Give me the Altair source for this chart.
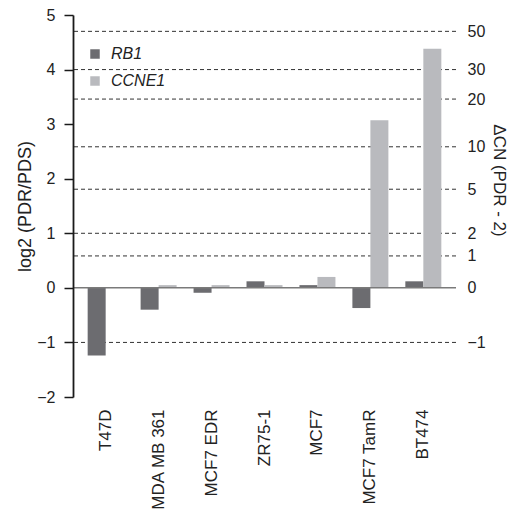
import altair as alt
import numpy as np
import pandas as pd

cells = ["T47D", "MDA MB 361", "MCF7 EDR", "ZR75-1", "MCF7", "MCF7 TamR", "BT474"]
genes = ["RB1", "CCNE1"]
rb1 = [-1.24, -0.40, -0.09, 0.12, 0.05, -0.37, 0.12]
ccne1 = [0.0, 0.05, 0.05, 0.05, 0.20, 3.07, 4.38]
left_ticks = [-2, -1, 0, 1, 2, 3, 4, 5]
dcn_ticks = [-1, 0, 1, 2, 5, 10, 20, 30, 50]
colors = ["#6c6c70", "#b9babe"]

FONT = "Liberation Sans"

rows = []
for i, c in enumerate(cells):
    rows.append({"cell": c, "gene": "RB1", "value": rb1[i]})
    rows.append({"cell": c, "gene": "CCNE1", "value": ccne1[i]})
bars_df = pd.DataFrame(rows)

# right-axis ticks: dCN mapped onto the log2 (PDR/PDS) scale, PDR = dCN + 2
dcn_pos = [float(np.log2(1 + d / 2)) for d in dcn_ticks]
grid_df = pd.DataFrame({"dcn": dcn_ticks, "pos": dcn_pos})
grid_df = grid_df[grid_df["dcn"] != 0]
zero_df = pd.DataFrame({"value": [0]})

yscale = alt.Scale(domain=[-2, 5], nice=False, zero=False)

left_axis = alt.Axis(orient="left", values=left_ticks, format="d",
                     title="log2 (PDR/PDS)",
                     grid=False, tickSize=9, tickWidth=1.5, tickColor="#1a1a1a",
                     domainColor="#1a1a1a", domainWidth=1.8, labelPadding=9,
                     labelFontSize=16, labelFont=FONT, labelColor="#222",
                     titleFont=FONT, titleFontSize=18, titleFontWeight="normal",
                     titleColor="#222", titlePadding=2, zindex=2)

grid = alt.Chart(grid_df).mark_rule(
    color="#333333", strokeDash=[4, 3], strokeWidth=1
).encode(
    y=alt.Y("pos:Q", scale=yscale,
            axis=alt.Axis(orient="right", values=dcn_pos,
                          labelExpr="format(round(2*pow(2, datum.value) - 2), 'd')",
                          title="ΔCN (PDR - 2)", ticks=False, domain=False, grid=False,
                          labelPadding=11, labelFontSize=16, labelFont=FONT, labelColor="#222",
                          titleFont=FONT, titleFontSize=17, titleFontWeight="normal",
                          titleColor="#222", titlePadding=4, titleY=165))
)

bars = alt.Chart(bars_df).mark_bar().encode(
    x=alt.X("cell:N", sort=cells,
            scale=alt.Scale(paddingInner=0.32, paddingOuter=0.277),
            axis=alt.Axis(title=None, labelAngle=-90, ticks=False, domain=False,
                          labelPadding=12, labelFontSize=17, labelFont=FONT,
                          labelColor="#222")),
    xOffset=alt.XOffset("gene:N", sort=genes),
    y=alt.Y("value:Q", scale=yscale, axis=left_axis),
    color=alt.Color("gene:N", sort=genes,
                    scale=alt.Scale(domain=genes, range=colors),
                    legend=alt.Legend(title=None, orient="none", legendX=14, legendY=31,
                                      symbolType="square", symbolSize=90,
                                      symbolStrokeWidth=0,
                                      labelFont=FONT, labelFontSize=16,
                                      labelFontStyle="italic", labelColor="#222",
                                      rowPadding=11, labelOffset=8)),
)

zero = alt.Chart(zero_df).mark_rule(color="#7a7a7a", strokeWidth=1.5).encode(
    y=alt.Y("value:Q", scale=yscale, axis=left_axis)
)

left = alt.layer(bars, zero)

chart = alt.layer(grid, left).resolve_scale(y="independent").properties(
    width=383, height=382,
    autosize=alt.AutoSizeParams(type="none"),
    padding={"left": 65, "top": 7, "right": 56, "bottom": 112},
).configure(background="white").configure_view(stroke="transparent", strokeWidth=0)

chart.save("out.html", embed_options={"renderer": "svg", "actions": False})
